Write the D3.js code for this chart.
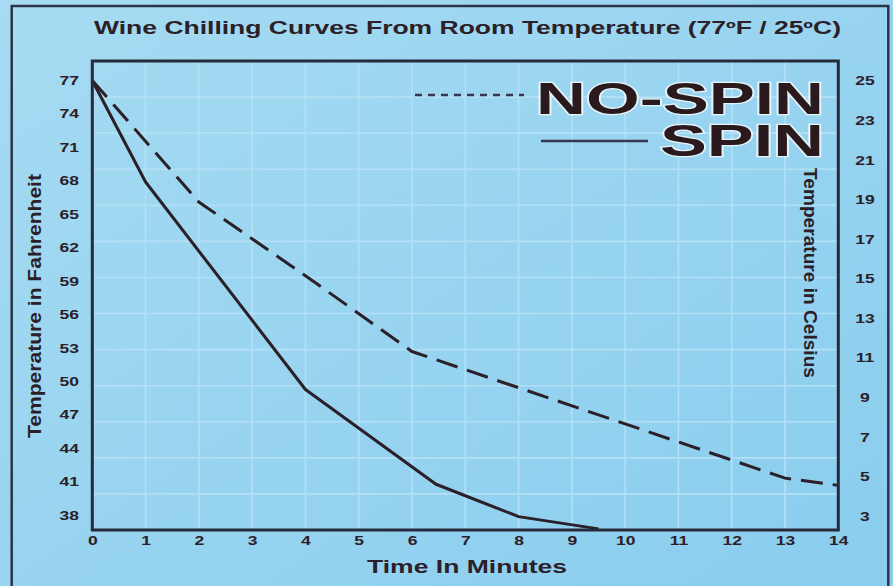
<!DOCTYPE html>
<html>
<head>
<meta charset="utf-8">
<script src="https://cdn.jsdelivr.net/npm/d3@7"></script>
<style>
  body { margin: 0; background: #96d3f0; }
  svg { display: block; }
</style>
</head>
<body>
<div id="chart"></div>
<script>
// values
const minutes = d3.range(0, 15);
const fahrenheitTicks = [77, 74, 71, 68, 65, 62, 59, 56, 53, 50, 47, 44, 41, 38];
const celsiusTicks = [25, 23, 21, 19, 17, 15, 13, 11, 9, 7, 5, 3];

const noSpinTime = [0, 2, 4, 6, 13, 14];
const noSpinTemp = [77, 66.1, 59.5, 52.7, 41.35, 40.7];

const spinTime = [0, 1, 4, 6.45, 8, 9.5];
const spinTemp = [77, 67.9, 49.3, 40.8, 37.9, 36.8];

const width = 893;
const height = 586;
const plot = { left: 92.3, right: 838.3, top: 61, bottom: 530 };
const ink = '#2b2027';
const font = '"Liberation Sans", Arial, sans-serif';
const sx = 1.46; // the scan is stretched sideways, so the text is too

const svg = d3.select('#chart')
    .append('svg')
    .attr('width', width)
    .attr('height', height)
    .attr('viewBox', `0 0 ${width} ${height}`);

// background
const grad = svg.append('defs').append('linearGradient')
    .attr('id', 'bg')
    .attr('x1', 0).attr('y1', 0).attr('x2', 1).attr('y2', 1);
grad.append('stop').attr('offset', 0).attr('stop-color', '#a6dbf2');
grad.append('stop').attr('offset', 1).attr('stop-color', '#8acdee');
svg.append('rect')
    .attr('width', width)
    .attr('height', height)
    .attr('fill', 'url(#bg)');

// outer frame
svg.append('rect')
    .attr('x', 11.7)
    .attr('y', 6)
    .attr('width', 876.6)
    .attr('height', 620)
    .attr('fill', 'none')
    .attr('stroke', '#2c3447')
    .attr('stroke-width', 2.5);

const x = d3.scaleLinear().domain([0, 14]).range([plot.left, plot.right]);
const yF = d3.scaleLinear().domain([38, 77]).range([515.5, 80.5]);
const yC = d3.scaleLinear().domain([3, 25]).range([516.5, 81]);
// the printed grid has 13 rows, not tied to either temperature scale
const yGrid = d3.scaleLinear().domain([0, 13]).range([plot.bottom, plot.top]);

// grid
const grid = svg.append('g').attr('class', 'grid')
    .attr('stroke', '#b4e0f5')
    .attr('stroke-width', 1.6);
grid.selectAll('line.v')
    .data(minutes.slice(1, -1))
    .join('line')
    .attr('class', 'v')
    .attr('x1', (d) => x(d)).attr('x2', (d) => x(d))
    .attr('y1', plot.top).attr('y2', plot.bottom);
grid.selectAll('line.h')
    .data(d3.range(1, 13))
    .join('line')
    .attr('class', 'h')
    .attr('x1', plot.left).attr('x2', plot.right)
    .attr('y1', (d) => yGrid(d)).attr('y2', (d) => yGrid(d));

// axes (labels only, the box is drawn separately)
function styleTicks(g) {
    g.select('.domain').remove();
    g.selectAll('.tick line').remove();
    g.selectAll('text')
        .attr('font-family', font)
        .attr('font-weight', 'bold')
        .attr('font-size', 12)
        .attr('fill', ink);
}

svg.append('g')
    .attr('transform', `translate(0, ${plot.bottom})`)
    .call(d3.axisBottom(x).tickValues(minutes).tickSize(0).tickPadding(6))
    .call(styleTicks)
    .call((g) => g.selectAll('text').attr('transform', `scale(${sx},1)`));

svg.append('g')
    .attr('transform', `translate(${plot.left}, 0)`)
    .call(d3.axisLeft(yF).tickValues(fahrenheitTicks).tickSize(0))
    .call(styleTicks)
    .call((g) => g.selectAll('text')
        .attr('x', -13.3 / sx)
        .attr('transform', `scale(${sx},1)`));

svg.append('g')
    .attr('transform', `translate(${plot.right}, 0)`)
    .call(d3.axisRight(yC).tickValues(celsiusTicks).tickSize(0))
    .call(styleTicks)
    .call((g) => g.selectAll('text')
        .attr('text-anchor', 'middle')
        .attr('x', 26.7 / sx)
        .attr('transform', `scale(${sx},1)`));

// curves
const line = d3.line()
    .x((d) => x(d[0]))
    .y((d) => yF(d[1]));

svg.append('path')
    .datum(d3.zip(noSpinTime, noSpinTemp))
    .attr('d', line)
    .attr('fill', 'none')
    .attr('stroke', ink)
    .attr('stroke-width', 3)
    .attr('stroke-dasharray', '22,10');

svg.append('path')
    .datum(d3.zip(spinTime, spinTemp))
    .attr('d', line)
    .attr('fill', 'none')
    .attr('stroke', ink)
    .attr('stroke-width', 3)
    .attr('stroke-linejoin', 'round');

// plot box
svg.append('rect')
    .attr('x', plot.left)
    .attr('y', plot.top)
    .attr('width', plot.right - plot.left)
    .attr('height', plot.bottom - plot.top)
    .attr('fill', 'none')
    .attr('stroke', '#262a3a')
    .attr('stroke-width', 3);

// legend
const legend = svg.append('g');
legend.append('line')
    .attr('x1', 415).attr('x2', 524)
    .attr('y1', 95).attr('y2', 95)
    .attr('stroke', '#3a3550')
    .attr('stroke-width', 2.5)
    .attr('stroke-dasharray', '7,6');
legend.append('line')
    .attr('x1', 541).attr('x2', 648)
    .attr('y1', 141).attr('y2', 141)
    .attr('stroke', '#3a3550')
    .attr('stroke-width', 2.5);

function bigLabel(txt, y, len) {
    legend.append('text')
        .attr('x', 824)
        .attr('y', y)
        .attr('text-anchor', 'end')
        .attr('font-family', font)
        .attr('font-weight', 'bold')
        .attr('font-size', 44)
        .attr('textLength', len)
        .attr('lengthAdjust', 'spacingAndGlyphs')
        .attr('fill', '#2a1a1e')
        .attr('stroke', 'rgba(255,255,255,0.75)')
        .attr('stroke-width', 2.5)
        .attr('paint-order', 'stroke')
        .text(txt);
}
bigLabel('NO-SPIN', 114, 288);
bigLabel('SPIN', 156, 164);

// titles
svg.append('text')
    .attr('x', 94)
    .attr('y', 33.5)
    .attr('font-family', font)
    .attr('font-weight', 'bold')
    .attr('font-size', 18)
    .attr('textLength', 747)
    .attr('lengthAdjust', 'spacingAndGlyphs')
    .attr('fill', ink)
    .text('Wine Chilling Curves From Room Temperature (77ºF / 25ºC)');

svg.append('text')
    .attr('x', 367)
    .attr('y', 572.5)
    .attr('font-family', font)
    .attr('font-weight', 'bold')
    .attr('font-size', 18)
    .attr('textLength', 200)
    .attr('lengthAdjust', 'spacingAndGlyphs')
    .attr('fill', ink)
    .text('Time In Minutes');

svg.append('text')
    .attr('transform', 'translate(41, 306) rotate(-90)')
    .attr('text-anchor', 'middle')
    .attr('font-family', font)
    .attr('font-weight', 'bold')
    .attr('font-size', 19)
    .attr('textLength', 264)
    .attr('lengthAdjust', 'spacingAndGlyphs')
    .attr('fill', ink)
    .text('Temperature in Fahrenheit');

svg.append('text')
    .attr('transform', 'translate(804, 273) rotate(90)')
    .attr('text-anchor', 'middle')
    .attr('font-family', font)
    .attr('font-weight', 'bold')
    .attr('font-size', 19)
    .attr('textLength', 210)
    .attr('lengthAdjust', 'spacingAndGlyphs')
    .attr('fill', ink)
    .text('Temperature in Celsius');
</script>
</body>
</html>
